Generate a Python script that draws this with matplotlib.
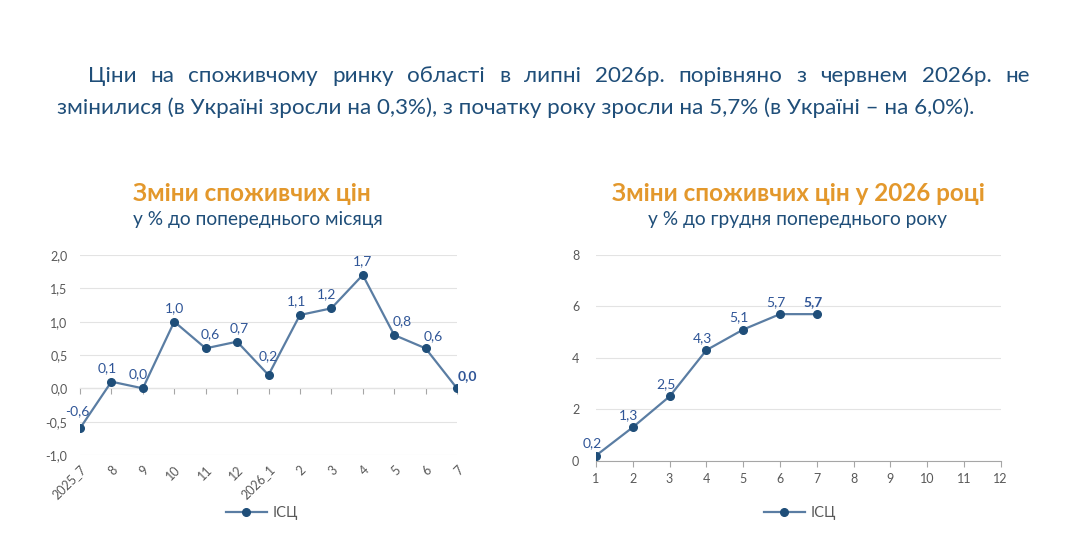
import matplotlib
matplotlib.use("Agg")
import matplotlib.pyplot as plt

# дані
mis_labels = ["2025_7", "8", "9", "10", "11", "12", "2026_1", "2", "3", "4", "5", "6", "7"]
mis_values = [-0.6, 0.1, 0.0, 1.0, 0.6, 0.7, 0.2, 1.1, 1.2, 1.7, 0.8, 0.6, 0.0]

rik_months = [1, 2, 3, 4, 5, 6, 7]
rik_values = [0.2, 1.3, 2.5, 4.3, 5.1, 5.7, 5.7]
rik_ticks = list(range(1, 13))

para_line1 = "Ціни на споживчому ринку області в липні 2026р. порівняно з червнем 2026р. не"
para_line2 = "змінилися (в Україні зросли на 0,3%), з початку року зросли на 5,7% (в Україні – на 6,0%)."

title_txt = "Зміни споживчих цін"
sub_left = "у % до попереднього місяця"
title_right = "Зміни споживчих цін у 2026 році"
sub_right = "у % до грудня попереднього року"
legend_name = "ІСЦ"

# кольори
TXT = "#1F4E79"
ORANGE = "#E3982C"
LINE = "#5A7DA3"
MARK = "#1F4E79"
LBL = "#2F5597"
GRAY = "#595959"
GRID = "#E3E3E3"

plt.rcParams["font.family"] = ["Lato", "DejaVu Sans"]

W, H = 1090, 546
fig = plt.figure(figsize=(W / 100, H / 100), dpi=100)


def fx(px):
    return px / W


def fy(py):
    return 1 - py / H


def fmt(v):
    return f"{v:.1f}".replace(".", ",")


# абзац, перший рядок вирівняний по ширині
renderer = fig.canvas.get_renderer()
words = para_line1.split()
objs = [fig.text(0, fy(82), w, fontsize=16.1, color=TXT, va="baseline") for w in words]
widths = [o.get_window_extent(renderer).width for o in objs]
gap = (1030 - 88 - sum(widths)) / (len(words) - 1)
x = 88
for o, w in zip(objs, widths):
    o.set_x(fx(x))
    x += w + gap
fig.text(fx(57), fy(114), para_line2, fontsize=16.1, color=TXT, va="baseline")

# ліва діаграма
ax1 = fig.add_axes([fx(80), fy(455), fx(457 - 80), (455 - 255) / H])
xs = list(range(len(mis_values)))
ax1.plot(xs, mis_values, color=LINE, lw=1.6, marker="o", ms=5.5,
         mfc=MARK, mec=MARK, label=legend_name, zorder=3)
ax1.set_xlim(0, len(xs) - 1)
ax1.set_ylim(-1.0, 2.0)
ax1.set_yticks([-1.0, -0.5, 0.0, 0.5, 1.0, 1.5, 2.0])
ax1.set_yticklabels([fmt(v) for v in ax1.get_yticks()])
ax1.set_xticks(xs)
ax1.set_xticklabels(mis_labels, rotation=45, ha="right", rotation_mode="anchor")
ax1.tick_params(axis="x", length=0, pad=6, labelsize=9, labelcolor=GRAY)
ax1.tick_params(axis="y", length=0, pad=9, labelsize=9, labelcolor=GRAY)
ax1.grid(axis="y", color=GRID, lw=0.8)
ax1.set_axisbelow(True)
for s in ax1.spines.values():
    s.set_visible(False)
zero = ax1.secondary_xaxis(1 / 3)
zero.set_xticks(xs)
zero.tick_params(length=4, color="#A6A6A6", labelbottom=False)
zero.spines["bottom"].set_color("#A6A6A6")

# зсуви підписів (пікселі)
off1 = [(-3, 11), (-4, 8), (-5, 8), (0, 8), (5, 8), (2, 8), (0, 13), (-3, 8),
        (-5, 8), (0, 8), (8, 8), (8, 6), (10, 6)]
for i, v in enumerate(mis_values):
    ax1.annotate(fmt(v), (xs[i], v), xytext=off1[i], textcoords="offset pixels",
                 ha="center", va="bottom", fontsize=10, color=LBL,
                 fontweight="bold" if i == len(mis_values) - 1 else "normal")

fig.text(fx(252), fy(193), title_txt, ha="center", va="center",
         fontsize=17.5, fontweight="bold", color=ORANGE)
fig.text(fx(258), fy(220), sub_left, ha="center", va="center", fontsize=13.8, color=TXT)

# права діаграма
ax2 = fig.add_axes([fx(596), fy(460.7), fx(1000.7 - 596), (460.7 - 255) / H])
ax2.plot(rik_months, rik_values, color=LINE, lw=1.6, marker="o", ms=5.5,
         mfc=MARK, mec=MARK, label=legend_name, zorder=3)
ax2.set_xlim(1, 12)
ax2.set_ylim(0, 8)
ax2.set_xticks(rik_ticks)
ax2.set_yticks([0, 2, 4, 6, 8])
ax2.tick_params(axis="x", length=4, color="#A6A6A6", pad=5, labelsize=9, labelcolor=GRAY)
ax2.tick_params(axis="y", length=0, pad=12, labelsize=9, labelcolor=GRAY)
ax2.grid(axis="y", color=GRID, lw=0.8)
ax2.set_axisbelow(True)
for s in ["top", "right", "left"]:
    ax2.spines[s].set_visible(False)
ax2.spines["bottom"].set_color("#A6A6A6")
for i, v in enumerate(rik_values):
    ax2.annotate(fmt(v), (rik_months[i], v), xytext=(-4, 6), textcoords="offset pixels",
                 ha="center", va="bottom", fontsize=10, color=LBL,
                 fontweight="bold" if i == len(rik_values) - 1 else "normal")

fig.text(fx(798), fy(193), title_right, ha="center", va="center",
         fontsize=17.5, fontweight="bold", color=ORANGE)
fig.text(fx(798), fy(220), sub_right, ha="center", va="center", fontsize=13.8, color=TXT)

# легенди
for ax, cx in [(ax1, 262), (ax2, 800)]:
    leg = fig.legend(handles=ax.get_lines(), loc="center", bbox_to_anchor=(fx(cx), fy(513)),
                     frameon=False, fontsize=10.5, handlelength=2.8, handletextpad=0.4)
    for t in leg.get_texts():
        t.set_color(GRAY)

fig.savefig("out.png", dpi=100)
